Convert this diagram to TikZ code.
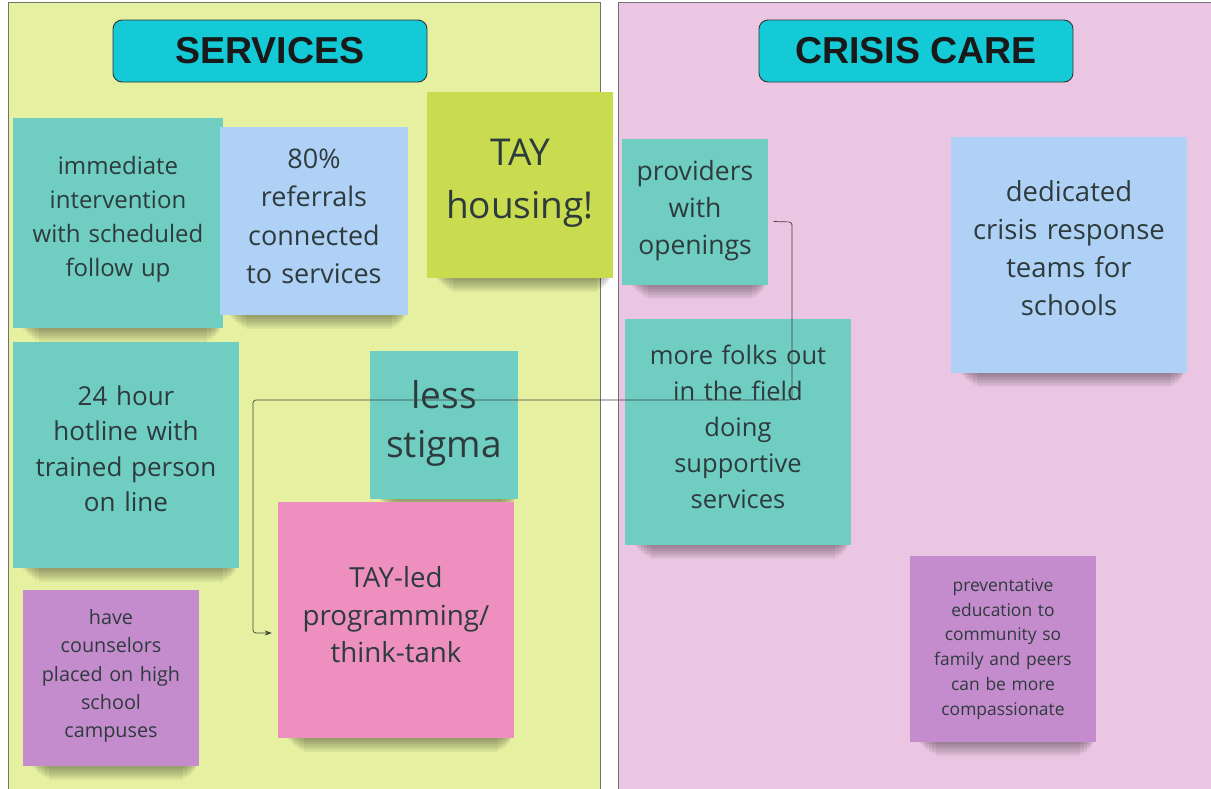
\documentclass[tikz,border=0pt]{standalone}
\usepackage{fontspec}
\setmainfont{Open Sans}
\newfontfamily\headfont{Liberation Sans}
\usetikzlibrary{calc,arrows.meta}
\definecolor{panelL}{HTML}{E5F1A1}
\definecolor{panelR}{HTML}{EBC6E3}
\definecolor{headC}{HTML}{14CAD6}
\definecolor{tealN}{HTML}{6FCDC2}
\definecolor{blueN}{HTML}{B0D1F6}
\definecolor{limeN}{HTML}{C9DB4F}
\definecolor{pinkN}{HTML}{EE90BF}
\definecolor{purpN}{HTML}{C48BCD}
\definecolor{txtC}{HTML}{2E3B3D}
\tikzset{
  panel/.style={draw=black!55, line width=1pt},
  header/.style={draw=black!80, line width=0.9pt, fill=headC, rounded corners=9pt,
     minimum width=314pt, minimum height=62pt, font=\headfont\bfseries\fontsize{37.5}{37.5}\selectfont, text=black!90},
  notebox/.style={minimum width=#1pt, minimum height=#1pt, inner sep=0pt},
  notetext/.style={align=center, text=txtC, inner sep=0pt},
  shadowst/.style={fill=black, opacity=0.055},
  conn/.style={draw=black!75, line width=0.7pt, rounded corners=3pt, -{Stealth[length=7pt,width=5pt]}},
}
\newcommand\noteshadow[1]{%
  \foreach \d/\l/\r in {2/10/3, 4/12/4, 6/14/5, 8/16/7, 10/19/9, 12/22/12, 14/26/16} {%
    \fill[shadowst] ([xshift=\l pt]#1.south west) rectangle ([xshift=-\r pt,yshift=-\d pt]#1.south east);}}
\begin{document}
\begin{tikzpicture}[x=1pt,y=-1pt]
\useasboundingbox (0,0) rectangle (1211,788);
\fill[white] (0,0) rectangle (1211,788);
% panels
\draw[panel, fill=panelL] (8,2) rectangle (600,800);
\draw[panel, fill=panelR] (618,2) rectangle (1220,800);
% headers
\node[header] (hs) at (270,51) {SERVICES};
\node[header] (hc) at (916,51) {CRISIS CARE};
% note boxes (positions)
\path (118,223) coordinate (p1) (314,221) coordinate (p2) (520,185) coordinate (p3)
      (695,212) coordinate (p4) (1069,255) coordinate (p5) (126,455) coordinate (p6)
      (738,432) coordinate (p8) (396,620) coordinate (p9) (444,425) coordinate (p7)
      (111,678) coordinate (p10) (1003,649) coordinate (p11);
\node[notebox=210] (n1) at (p1) {};
\node[notebox=188] (n2) at (p2) {};
\node[notebox=185] (n3) at (p3) {};
\node[notebox=145] (prov) at (p4) {};
\node[notebox=236] (n5) at (p5) {};
\node[notebox=226] (n6) at (p6) {};
\node[notebox=225] (n8) at (p8) {};
\node[notebox=236] (tayled) at (p9) {};
\node[notebox=148] (n7) at (p7) {};
\node[notebox=176] (n10) at (p10) {};
\node[notebox=185] (n11) at (p11) {};
% shadows
\foreach \n in {n1,n2,n3,prov,n5,n6,n8,tayled,n7,n10,n11} {\noteshadow{\n}}
% fills
\fill[tealN] (n1.south west) rectangle (n1.north east);
\fill[blueN] (n2.south west) rectangle (n2.north east);
\fill[limeN] (n3.south west) rectangle (n3.north east);
\fill[tealN] (prov.south west) rectangle (prov.north east);
\fill[blueN] (n5.south west) rectangle (n5.north east);
\fill[tealN] (n6.south west) rectangle (n6.north east);
\fill[tealN] (n8.south west) rectangle (n8.north east);
\fill[pinkN] (tayled.south west) rectangle (tayled.north east);
\fill[tealN] (n7.south west) rectangle (n7.north east);
\fill[purpN] (n10.south west) rectangle (n10.north east);
\fill[purpN] (n11.south west) rectangle (n11.north east);
% note texts
\node[notetext, text width=200pt, font=\fontsize{24}{34}\selectfont] (n1t) at ([yshift=3.5pt]n1.center)
  {immediate\\intervention\\with scheduled\\follow up};
\node[notetext, text width=180pt, font=\fontsize{27}{38.5}\selectfont] (n2t) at ([yshift=4.5pt]n2.center)
  {80\%\\referrals\\connected\\to services};
\node[notetext, text width=178pt, font=\fontsize{37}{53}\selectfont] (n3t) at ([yshift=1.5pt]n3.center)
  {TAY\\housing!};
\node[notetext, text width=140pt, font=\fontsize{26.5}{37}\selectfont] (provt) at ([yshift=1.5pt]prov.center)
  {providers\\with\\openings};
\node[notetext, text width=228pt, font=\fontsize{27.5}{38}\selectfont] (n5t) at ([yshift=6.5pt]n5.center)
  {dedicated\\crisis response\\teams for\\schools};
\node[notetext, text width=220pt, font=\fontsize{26}{35.5}\selectfont] (n6t) at ([yshift=6.5pt]n6.center)
  {24 hour\\hotline with\\trained person\\on line};
\node[notetext, text width=142pt, font=\fontsize{37}{49}\selectfont] (n7t) at ([yshift=2pt]n7.center)
  {less\\stigma};
\node[notetext, text width=218pt, font=\fontsize{25.5}{36}\selectfont] (n8t) at ([yshift=5pt]n8.center)
  {more folks out\\in the field\\doing\\supportive\\services};
\node[notetext, text width=228pt, font=\fontsize{27.7}{37.5}\selectfont] (tayledt) at ([yshift=5pt]tayled.center)
  {TAY-led\\programming/\\think-tank};
\node[notetext, text width=170pt, font=\fontsize{19.8}{28.2}\selectfont] (n10t) at ([yshift=2pt]n10.center)
  {have\\counselors\\placed on high\\school\\campuses};
\node[notetext, text width=180pt, font=\fontsize{17.4}{24.8}\selectfont] (n11t) at (n11.center)
  {preventative\\education to\\community so\\family and peers\\can be more\\compassionate};
% connector
\coordinate (k1) at (792,222);
\coordinate (k2) at (792,400);
\coordinate (k3) at (253,400);
\coordinate (k4) at (253,633);
\draw[conn] ([xshift=6pt,yshift=-9.5pt]prov.east) -- (k1) -- (k2) -- (k3) -- (k4) -- ([xshift=-6pt,yshift=-13pt]tayled.west);
\end{tikzpicture}
\end{document}
